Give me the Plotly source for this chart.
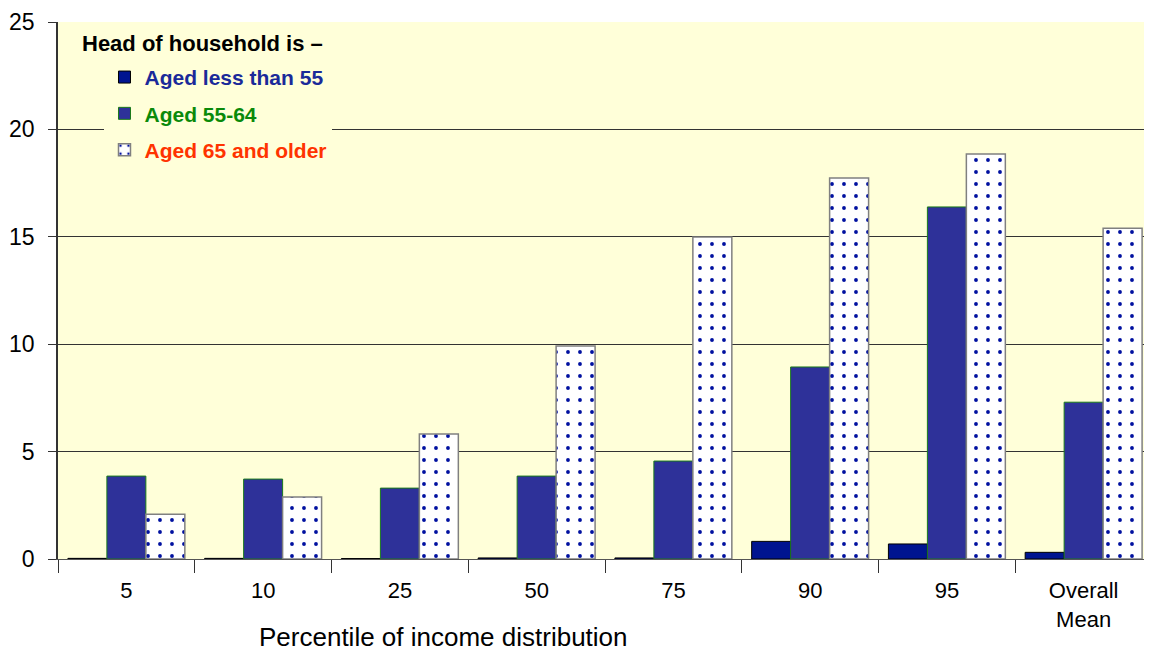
import plotly.graph_objects as go

categories = ["5", "10", "25", "50", "75", "90", "95", "Overall<br>Mean"]
aged_under_55 = [0.03, 0.03, 0.02, 0.05, 0.05, 0.82, 0.70, 0.31]
aged_55_64 = [3.86, 3.72, 3.30, 3.86, 4.56, 8.94, 16.39, 7.30]
aged_65_older = [2.08, 2.89, 5.82, 9.92, 14.99, 17.74, 18.85, 15.40]

FONT = "Arial, Liberation Sans, sans-serif"
PLOT_BG = "#FFFFD9"

fig = go.Figure()
fig.add_trace(go.Bar(
    x=categories, y=aged_under_55,
    name="<span style='color:#1a2a99'><b>Aged less than 55</b></span>",
    marker=dict(color="#001490", line=dict(color="#000000", width=1)),
    legendgroup="a"))
fig.add_trace(go.Bar(
    x=categories, y=aged_55_64,
    name="<span style='color:#0a8a0a'><b>Aged 55-64</b></span>",
    marker=dict(color="#2E3199", line=dict(color="#1a7a1a", width=1)),
    legendgroup="b"))
fig.add_trace(go.Bar(
    x=categories, y=aged_65_older,
    name="<span style='color:#ff3300'><b>Aged 65 and older</b></span>",
    marker=dict(color="white", line=dict(color="#808080", width=1.5),
                pattern=dict(shape=".", fgcolor="#0010a0", bgcolor="white",
                             size=12, solidity=0.08, fillmode="replace")),
    legendgroup="c"))

# legend heading
fig.add_annotation(
    text="<b>Head of household is –</b>", xref="paper", yref="paper",
    x=0.02, y=0.96, xanchor="left", yanchor="middle", showarrow=False,
    font=dict(family=FONT, size=22, color="black"))

fig.add_annotation(
    text="Percentile of income distribution", xref="paper", yref="paper",
    x=0.352, y=-0.114, xanchor="center", yanchor="top", showarrow=False,
    font=dict(family=FONT, size=26, color="black"))

fig.update_xaxes(
    showline=True, linecolor="#555555", linewidth=1,
    ticks="outside", tickson="boundaries", ticklen=13, tickcolor="#333333",
    ticklabelstandoff=12, automargin=False,
    tickfont=dict(family=FONT, size=22, color="black"),
    showgrid=False)
fig.update_yaxes(
    range=[0, 25], dtick=5,
    showline=True, linecolor="#333333", linewidth=1.5,
    ticks="outside", ticklen=8, tickcolor="#333333",
    ticklabelstandoff=9, automargin=False,
    showgrid=True, gridcolor="#333333", gridwidth=1,
    zeroline=False,
    tickfont=dict(family=FONT, size=23, color="black"))

# page body has an 8px margin, so the figure is sized to fit inside it
fig.update_layout(
    barmode="group", bargap=0.145, bargroupgap=0,
    plot_bgcolor=PLOT_BG, paper_bgcolor="white",
    width=1144, height=644,
    margin=dict(l=50, r=0, t=14, b=93),
    showlegend=True,
    legend=dict(x=0.0425, y=0.935, xanchor="left", yanchor="top",
                bgcolor=PLOT_BG, traceorder="grouped", tracegroupgap=6,
                font=dict(family=FONT, size=21)),
    font=dict(family=FONT, color="black"))

fig.write_html("out.html")
